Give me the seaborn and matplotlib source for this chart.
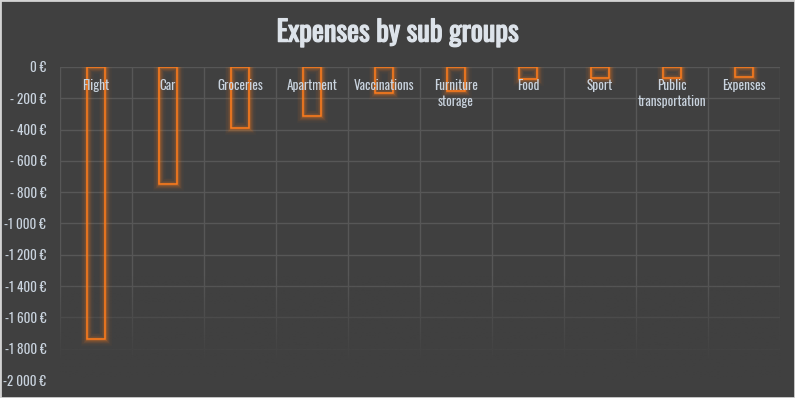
import numpy as np
import pandas as pd
import matplotlib
matplotlib.use("Agg")
import matplotlib.pyplot as plt
import matplotlib.patheffects as pe
from matplotlib.patches import Rectangle
import seaborn as sns

# data
categories = ["Flight", "Car", "Groceries", "Apartment", "Vaccinations",
              "Furniture\nstorage", "Food", "Sport", "Public\ntransportation", "Expenses"]
amounts = [-1740, -750, -392, -315, -168, -151, -79, -72, -72, -66]
y_ticks = [0, -200, -400, -600, -800, -1000, -1200, -1400, -1600, -1800, -2000]
y_labels = ["0 €", "- 200 €", "- 400 €", "- 600 €", "- 800 €", "-1 000 €",
            "-1 200 €", "-1 400 €", "-1 600 €", "-1 800 €", "-2 000 €"]

bg = "#404040"
grid_col = "#575757"
txt = "#c9d3de"
orange = "#ff7c1c"

df = pd.DataFrame({"cat": categories, "amount": amounts})

sns.set_style("dark")
plt.rcParams["font.family"] = ["Oswald", "DejaVu Sans"]

fig = plt.figure(figsize=(7.95, 3.98), dpi=100)
fig.patch.set_facecolor(bg)
ax = fig.add_axes([0.0755, 0.0452, 0.9057, 0.7865])
ax.set_facecolor(bg)

# soft glow first, then the crisp outline
n_before = 0
for lw, a in [(9, 0.04), (7, 0.06), (5, 0.09), (3.4, 0.13), (2.2, 0.18), (1.1, 1.0)]:
    sns.barplot(data=df, x="cat", y="amount", fill=False, color=orange,
                linewidth=lw, width=0.24, ax=ax, errorbar=None)
    for p in ax.patches[n_before:]:
        p.set_edgecolor(matplotlib.colors.to_rgba(orange, a))
        p.set_linewidth(lw)
        p.set_zorder(3)
    n_before = len(ax.patches)

# grid
ax.set_xticks(np.arange(-0.5, len(categories), 1), minor=True)
ax.set_yticks(y_ticks)
ax.set_yticklabels(y_labels)
ax.grid(False)
ax.grid(True, which="minor", axis="x", color=grid_col, lw=1, zorder=0.5)
ax.grid(True, which="major", axis="y", color=grid_col, lw=1, zorder=0.5)
ax.set_axisbelow(True)

# fade the grid towards the bottom
fade = np.zeros((200, 2, 4))
fade[..., :3] = matplotlib.colors.to_rgb(bg)
fade[..., 3] = np.clip(np.linspace(-0.15, 1.3, 200), 0, 1)[:, None]
ax.imshow(fade, extent=[-0.5, len(categories) - 0.5, -2050, -1250],
          aspect="auto", zorder=1, origin="upper", interpolation="bilinear")

ax.set_xlim(-0.5, len(categories) - 0.5)
ax.set_ylim(-2000, 0)
ax.set_xticks([])
ax.set_xlabel("")
ax.set_ylabel("")
for s in ax.spines.values():
    s.set_visible(False)
ax.tick_params(axis="y", length=0, pad=10, labelsize=9.5, labelcolor=txt)

for i, c in enumerate(categories):
    ax.text(i, -75, c, ha="center", va="top", color=txt, fontsize=9.5,
            linespacing=1.3, zorder=4)

fig.text(0.5, 0.918, "Expenses by sub groups", ha="center", va="center",
         color="#dde3ea", fontsize=20.5,
         path_effects=[pe.withStroke(linewidth=0.9, foreground="#dde3ea")])

fig.patches.append(Rectangle((0, 0), 1, 1, transform=fig.transFigure,
                             fill=False, edgecolor="#d4d4d4", lw=2))

fig.savefig("out.png", dpi=100, facecolor=bg)
